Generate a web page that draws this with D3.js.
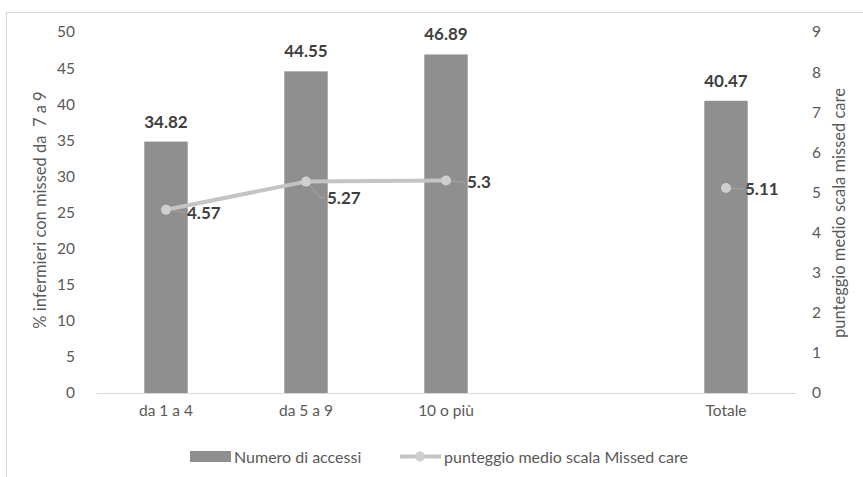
<!DOCTYPE html>
<html>
<head>
<meta charset="utf-8">
<script src="https://cdn.jsdelivr.net/npm/d3@7"></script>
<style>
  html, body { margin: 0; padding: 0; background: #fff; }
  svg { display: block; font-family: Lato, "Open Sans", sans-serif; }
</style>
</head>
<body>
<svg id="chart" width="863" height="477"></svg>
<script>
const categories = ["da 1 a 4", "da 5 a 9", "10 o più", "", "Totale"];
const barValues = [34.82, 44.55, 46.89, null, 40.47];
const lineValues = [4.57, 5.27, 5.3, null, 5.11];
const leftTicks = [0, 5, 10, 15, 20, 25, 30, 35, 40, 45, 50];
const rightTicks = [0, 1, 2, 3, 4, 5, 6, 7, 8, 9];
const barSeriesName = "Numero di accessi";
const lineSeriesName = "punteggio medio scala Missed care";
const leftTitle = "% infermieri con missed da  7 a 9";
const rightTitle = "punteggio medio scala missed care";

const svg = d3.select("#chart");
const plot = { left: 96, right: 796, top: 32, bottom: 393 };

// frame
svg.append("rect").attr("x", 6.5).attr("y", 12.5).attr("width", 870).attr("height", 480)
  .attr("fill", "none").attr("stroke", "#d9d9d9").attr("stroke-width", 1);

const keys = categories.map((c, i) => i);
const x = d3.scaleBand().domain(keys).range([plot.left, plot.right]).paddingInner(0.69).paddingOuter(0.345);
const yL = d3.scaleLinear().domain([0, 50]).range([plot.bottom, plot.top]);
const yR = d3.scaleLinear().domain([0, 9]).range([plot.bottom, plot.top]);

const textCol = "#595959";
const tickFont = "15.5px";

// left axis
const gL = svg.append("g").attr("transform", `translate(${plot.left - 14},0)`)
  .call(d3.axisLeft(yL).tickValues(leftTicks).tickSize(0).tickPadding(7));
gL.select(".domain").remove();
gL.selectAll("text").attr("fill", textCol).style("font-size", tickFont).style("font-family", "Lato, sans-serif");

// right axis
const gR = svg.append("g").attr("transform", `translate(${plot.right + 10},0)`)
  .call(d3.axisRight(yR).tickValues(rightTicks).tickSize(0).tickPadding(6));
gR.select(".domain").remove();
gR.selectAll("text").attr("fill", textCol).style("font-size", tickFont).style("font-family", "Lato, sans-serif");

// bottom axis
const gB = svg.append("g").attr("transform", `translate(0,${plot.bottom})`)
  .call(d3.axisBottom(x).tickSize(0).tickPadding(12).tickFormat(i => categories[i]));
gB.select(".domain").attr("stroke", "#d9d9d9").attr("stroke-width", 1.2);
gB.selectAll("text").attr("fill", textCol).style("font-size", tickFont).style("font-family", "Lato, sans-serif");

// bars
const barData = keys.filter(i => barValues[i] != null).map(i => ({ i, v: barValues[i] }));
svg.append("g").selectAll("rect").data(barData).join("rect")
  .attr("x", d => x(d.i))
  .attr("width", x.bandwidth())
  .attr("y", d => yL(d.v))
  .attr("height", d => yL(0) - yL(d.v))
  .attr("fill", "#8f8f8f");

svg.append("g").selectAll("text").data(barData).join("text")
  .attr("x", d => x(d.i) + x.bandwidth() / 2)
  .attr("y", d => yL(d.v) - 14)
  .attr("text-anchor", "middle")
  .attr("fill", "#404040")
  .style("font-size", "17px").style("font-weight", "bold")
  .text(d => d.v.toFixed(2));

// line
const lineData = keys.map(i => ({ i, v: lineValues[i] }));
const line = d3.line().defined(d => d.v != null)
  .x(d => x(d.i) + x.bandwidth() / 2).y(d => yR(d.v));
svg.append("path").datum(lineData).attr("d", line)
  .attr("fill", "none").attr("stroke", "#c4c4c4").attr("stroke-width", 4).attr("stroke-linejoin", "round");

const pts = lineData.filter(d => d.v != null);
// label offsets (dx, dy) relative to point, with leader lines
const labelOffsets = [[21, 3], [21, 16], [21, 2], [19, 1]];
const lblG = svg.append("g");
pts.forEach((d, k) => {
  const px = x(d.i) + x.bandwidth() / 2, py = yR(d.v);
  const [dx, dy] = labelOffsets[k];
  const lx = px + dx, ly = py + dy;
  if (dy > 8) {
    lblG.append("polyline").attr("points", `${px},${py} ${lx - 6},${ly} ${lx - 2},${ly}`)
      .attr("fill", "none").attr("stroke", "#a6a6a6").attr("stroke-width", 1);
  } else {
    lblG.append("line").attr("x1", px).attr("y1", py).attr("x2", lx - 2).attr("y2", ly)
      .attr("stroke", "#a6a6a6").attr("stroke-width", 1);
  }
  lblG.append("text").attr("x", lx).attr("y", ly).attr("dy", "0.35em")
    .attr("fill", "#404040").style("font-size", "17px").style("font-weight", "bold")
    .text(String(d.v));
});

svg.append("g").selectAll("circle").data(pts).join("circle")
  .attr("cx", d => x(d.i) + x.bandwidth() / 2).attr("cy", d => yR(d.v)).attr("r", 5)
  .attr("fill", "#cfcfcf");

// axis titles
svg.append("text").attr("transform", `translate(46,210) rotate(-90)`)
  .attr("text-anchor", "middle").attr("fill", textCol).style("font-size", "16.5px")
  .style("white-space", "pre").attr("xml:space", "preserve")
  .text(leftTitle);
svg.append("text").attr("transform", `translate(845,213) rotate(-90)`)
  .attr("text-anchor", "middle").attr("fill", textCol).style("font-size", "16.5px")
  .text(rightTitle);

// legend
const lg = svg.append("g").style("font-size", "16px");
lg.append("rect").attr("x", 190).attr("y", 451).attr("width", 41).attr("height", 11).attr("fill", "#8f8f8f");
lg.append("text").attr("x", 234).attr("y", 457).attr("dy", "0.35em").attr("fill", textCol).text(barSeriesName);
lg.append("line").attr("x1", 400).attr("x2", 441).attr("y1", 456.5).attr("y2", 456.5)
  .attr("stroke", "#c4c4c4").attr("stroke-width", 4);
lg.append("circle").attr("cx", 420).attr("cy", 456.5).attr("r", 5).attr("fill", "#cfcfcf");
lg.append("text").attr("x", 444).attr("y", 457).attr("dy", "0.35em").attr("fill", textCol).text(lineSeriesName);
</script>
</body>
</html>
